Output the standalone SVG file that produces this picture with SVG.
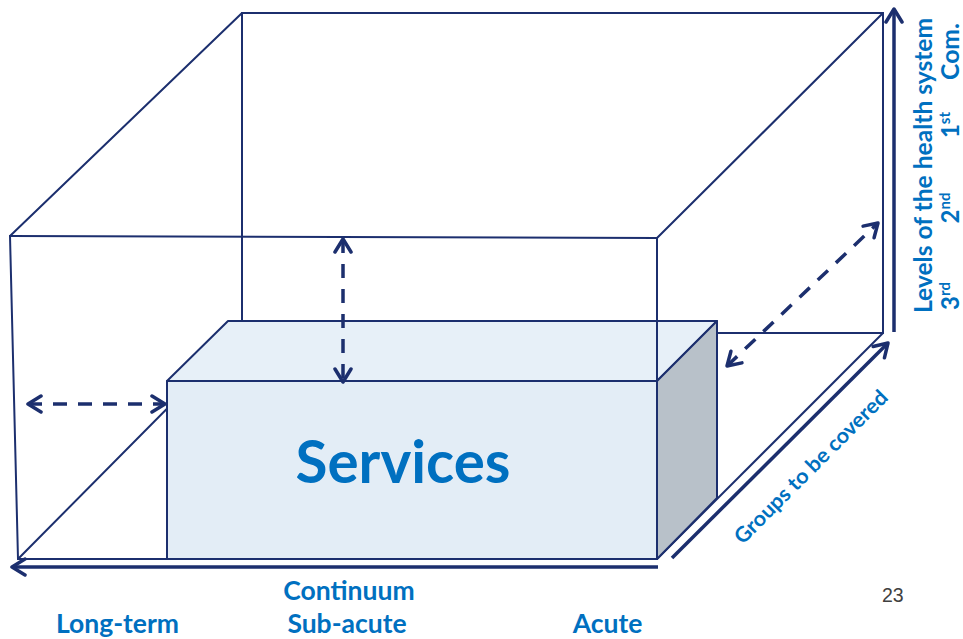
<svg xmlns="http://www.w3.org/2000/svg" width="963" height="639" viewBox="0 0 963 639">
<style>
  .edge{fill:none;stroke:#1c2f6e;stroke-width:2;stroke-linecap:round}
  .axis{fill:none;stroke:#1c2f6e;stroke-width:3.5;marker-end:url(#chev)}
  .dash{fill:none;stroke:#1c2f6e;stroke-width:3.5;stroke-dasharray:14 11;marker-start:url(#chev);marker-end:url(#chev)}
  .lbl{font-family:Lato,"Open Sans","Liberation Sans",sans-serif;font-weight:700;fill:#0070c0}
  .face{stroke:#1c2f6e;stroke-width:2;stroke-linejoin:round}
</style>
<defs>
  <marker id="chev" viewBox="-16 -10 19 20" markerWidth="19" markerHeight="20" refX="0" refY="0" orient="auto-start-reverse" markerUnits="userSpaceOnUse">
    <path d="M-13,-8 L0,0 L-13,8" fill="none" stroke="#1c2f6e" stroke-width="3.5" stroke-dasharray="none" stroke-linecap="round" stroke-linejoin="round"/>
  </marker>
</defs>
<rect width="963" height="639" fill="#ffffff"/>

<g id="outer-box-back">
  <line class="edge" x1="10" y1="236" x2="242" y2="13"/>
  <line class="edge" x1="242" y1="13" x2="883" y2="13"/>
  <line class="edge" x1="657" y1="238" x2="883" y2="13"/>
  <line class="edge" x1="883" y1="13" x2="883" y2="333"/>
  <line class="edge" x1="242" y1="13" x2="242" y2="333"/>
  <line class="edge" x1="242" y1="333" x2="883" y2="333"/>
  <line class="edge" x1="18" y1="559" x2="242" y2="333"/>
  <line class="edge" x1="657" y1="559" x2="883" y2="333"/>
  <line class="edge" x1="10" y1="236" x2="18" y2="559"/>
  <line class="edge" x1="10" y1="236" x2="657" y2="238"/>
  <line class="edge" x1="18" y1="559" x2="657" y2="559"/>
</g>

<g id="services">
  <polygon class="face" points="167,381 228,321 717,321 657,381" fill="#e7f0f8"/>
  <polygon class="face" points="657,381 717,321 717,498 657,559" fill="#b8c1c9"/>
  <rect class="face" x="167" y="381" width="490" height="178" fill="#e3edf6"/>
  <text class="lbl" x="403" y="483" font-size="60" text-anchor="middle" textLength="215" lengthAdjust="spacingAndGlyphs">Services</text>
</g>

<g id="outer-box-front">
  <line class="edge" x1="657" y1="238" x2="657" y2="559"/>
</g>

<g id="connectors">
  <line class="dash" x1="28" y1="404" x2="165" y2="404"/>
  <line class="dash" x1="343" y1="239" x2="343" y2="382"/>
  <line class="dash" x1="727" y1="366" x2="878" y2="223"/>
  <line class="axis" x1="658" y1="567" x2="12" y2="567"/>
  <line class="axis" x1="672" y1="558" x2="888" y2="343"/>
  <line class="axis" x1="894" y1="332" x2="894" y2="9"/>
</g>

<g id="axis-labels">
  <text class="lbl" font-size="24" text-anchor="middle" textLength="295" lengthAdjust="spacingAndGlyphs" transform="translate(932,165.5) rotate(-90)">Levels of the health system</text>
  <text class="lbl" font-size="24" text-anchor="middle" transform="translate(959,296) rotate(-90)">3<tspan font-size="15" dy="-9">rd</tspan></text>
  <text class="lbl" font-size="24" text-anchor="middle" transform="translate(959,208) rotate(-90)">2<tspan font-size="15" dy="-9">nd</tspan></text>
  <text class="lbl" font-size="24" text-anchor="middle" transform="translate(959,125) rotate(-90)">1<tspan font-size="15" dy="-9">st</tspan></text>
  <text class="lbl" font-size="24" text-anchor="middle" textLength="57" lengthAdjust="spacingAndGlyphs" transform="translate(959,51.5) rotate(-90)">Com.</text>
  <text class="lbl" font-size="21" text-anchor="middle" textLength="207" lengthAdjust="spacingAndGlyphs" transform="translate(816,472) rotate(-45)">Groups to be covered</text>
  <text class="lbl" x="349" y="600" font-size="26.5" text-anchor="middle">Continuum</text>
  <text class="lbl" x="117.5" y="633" font-size="26.5" text-anchor="middle">Long-term</text>
  <text class="lbl" x="347" y="633" font-size="26.5" text-anchor="middle">Sub-acute</text>
  <text class="lbl" x="607.5" y="633" font-size="26.5" text-anchor="middle">Acute</text>
  <text x="882" y="602" font-family="Liberation Sans, Arial, sans-serif" font-size="19.5" fill="#404040">23</text>
</g>
</svg>
